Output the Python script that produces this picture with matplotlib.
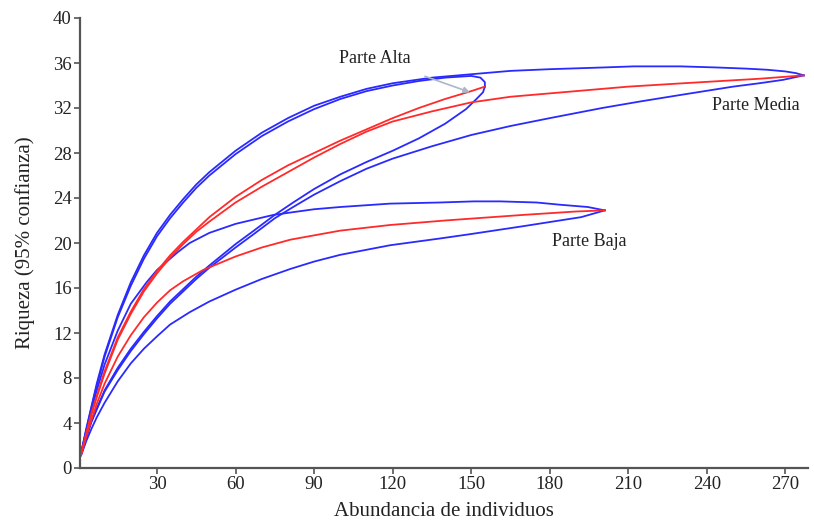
import matplotlib
matplotlib.use("Agg")
import matplotlib.pyplot as plt

# ---------------- data ----------------
# Parte Alta
alta_x = [1, 3, 5, 7, 10, 15, 20, 25, 30, 35, 40, 45, 50, 60, 70, 80, 90, 100, 110, 120, 130, 140, 150, 155.2]
alta_mean = [1.2, 3.1, 4.9, 6.4, 8.6, 11.6, 13.9, 15.9, 17.5, 18.9, 20.1, 21.2, 22.3, 24.1, 25.6, 26.9, 28.0, 29.1, 30.1, 31.1, 32.0, 32.8, 33.5, 33.9]
alta_up_x = [1, 3, 5, 7, 10, 15, 20, 25, 30, 35, 40, 45, 50, 60, 70, 80, 90, 100, 110, 120, 130, 140, 150, 153.5, 155.2, 155.2]
alta_up = [1.3, 3.4, 5.4, 7.3, 9.9, 13.4, 16.2, 18.6, 20.6, 22.2, 23.6, 24.9, 26.0, 27.9, 29.5, 30.8, 31.9, 32.8, 33.5, 34.0, 34.4, 34.7, 34.85, 34.7, 34.3, 33.9]
alta_lo_x = [1, 3, 5, 7, 10, 15, 20, 25, 30, 35, 40, 45, 50, 60, 67, 75, 82, 90, 100, 110, 120, 130, 140, 148, 152, 154.5, 155.2]
alta_lo = [1.2, 2.8, 4.2, 5.3, 6.9, 8.9, 10.6, 12.1, 13.5, 14.8, 15.9, 17.0, 18.0, 19.9, 21.1, 22.5, 23.6, 24.8, 26.1, 27.2, 28.2, 29.3, 30.6, 31.9, 32.8, 33.4, 33.9]

# Parte Media
media_x = [1, 3, 5, 7, 10, 15, 20, 25, 30, 35, 40, 45, 50, 60, 70, 80, 90, 100, 110, 120, 135, 150, 165, 180, 210, 231, 260, 277]
media_mean = [1.2, 3.0, 4.8, 6.3, 8.4, 11.4, 13.7, 15.7, 17.3, 18.7, 19.9, 21.0, 21.9, 23.6, 25.0, 26.3, 27.6, 28.8, 29.9, 30.8, 31.7, 32.5, 33.0, 33.3, 33.9, 34.2, 34.6, 34.9]
media_up_x = [1, 3, 5, 7, 10, 15, 20, 25, 30, 35, 40, 45, 50, 60, 70, 80, 90, 100, 110, 120, 135, 150, 165, 180, 200, 212, 230, 244, 255, 263, 270, 274, 277]
media_up = [1.3, 3.5, 5.5, 7.5, 10.1, 13.6, 16.5, 18.9, 20.9, 22.5, 23.9, 25.2, 26.3, 28.2, 29.8, 31.1, 32.2, 33.0, 33.7, 34.2, 34.7, 35.0, 35.3, 35.45, 35.6, 35.7, 35.7, 35.6, 35.5, 35.4, 35.25, 35.1, 34.9]
media_lo_x = [1, 3, 5, 7, 10, 15, 20, 25, 30, 35, 40, 45, 50, 60, 67, 75, 82, 90, 100, 110, 120, 135, 150, 165, 180, 200, 215, 231, 250, 260, 269, 277]
media_lo = [1.2, 2.7, 4.1, 5.2, 6.8, 8.7, 10.4, 11.9, 13.3, 14.6, 15.7, 16.8, 17.8, 19.6, 20.8, 22.2, 23.2, 24.3, 25.5, 26.6, 27.5, 28.6, 29.6, 30.4, 31.1, 32.0, 32.6, 33.2, 33.9, 34.2, 34.5, 34.9]

# Parte Baja
baja_x = [1, 3, 5, 7, 10, 15, 20, 25, 30, 35, 40, 47.6, 60, 70, 81, 100, 119, 140, 170, 190, 201]
baja_mean = [1.2, 2.8, 4.3, 5.7, 7.5, 9.9, 11.8, 13.4, 14.7, 15.8, 16.6, 17.6, 18.8, 19.6, 20.3, 21.1, 21.6, 22.0, 22.5, 22.8, 22.9]
baja_up_x = [1, 3, 5, 7, 10, 15, 20, 26, 30, 35, 38, 42.5, 45, 50, 60, 74.5, 90, 100, 119, 138, 151, 161, 175, 184, 194.5, 201]
baja_up = [1.3, 3.3, 5.2, 6.9, 9.2, 12.2, 14.6, 16.5, 17.6, 18.6, 19.2, 20.0, 20.3, 20.9, 21.7, 22.5, 23.0, 23.2, 23.5, 23.6, 23.7, 23.7, 23.6, 23.4, 23.2, 22.9]
baja_lo_x = [1, 3, 5, 7, 10, 15, 20, 25, 30, 35, 42.5, 50, 60, 70, 81, 90, 100, 119, 138, 150, 170, 192, 201]
baja_lo = [1.1, 2.4, 3.5, 4.5, 5.8, 7.7, 9.3, 10.6, 11.7, 12.75, 13.85, 14.8, 15.85, 16.8, 17.7, 18.35, 18.95, 19.8, 20.4, 20.8, 21.5, 22.3, 22.9]

x_ticks = [30, 60, 90, 120, 150, 180, 210, 240, 270]
y_ticks = [0, 4, 8, 12, 16, 20, 24, 28, 32, 36, 40]

# ---------------- drawing ----------------
plt.rcParams['font.family'] = ['Liberation Serif', 'DejaVu Serif']

fig = plt.figure(figsize=(8.14, 5.25), dpi=100)
ax = fig.add_axes([80 / 814, 57 / 525, 728 / 814, 450 / 525])

blue = '#2a2aff'
red = '#ff2a2a'
lw = 1.3

for xs, ys in [(alta_up_x, alta_up), (alta_lo_x, alta_lo),
               (media_up_x, media_up), (media_lo_x, media_lo),
               (baja_up_x, baja_up), (baja_lo_x, baja_lo)]:
    ax.plot(xs, ys, color=blue, lw=lw, solid_joinstyle='round')
for xs, ys in [(alta_x, alta_mean), (media_x, media_mean), (baja_x, baja_mean)]:
    ax.plot(xs, ys, color=red, lw=lw, solid_joinstyle='round')

ax.set_xlim(0.6, 278.6)
ax.set_ylim(0, 40)
ax.set_xticks(x_ticks)
ax.set_yticks(y_ticks)
ax.set_xticklabels([str(v) for v in x_ticks])
ax.set_yticklabels([str(v) for v in y_ticks])

for s in ['top', 'right']:
    ax.spines[s].set_visible(False)
for s in ['left', 'bottom']:
    ax.spines[s].set_color('#555555')
    ax.spines[s].set_linewidth(1.6)
ax.tick_params(axis='both', colors='#555555', labelcolor='#222222',
               labelsize=13.5, length=4, width=1.2, direction='out', pad=2)

ax.set_xlabel('Abundancia de individuos', fontsize=15, color='#222222', labelpad=6)
ax.set_ylabel('Riqueza (95% confianza)', fontsize=15, color='#222222', labelpad=13)

ax.annotate('Parte Alta', xy=(149.5, 33.4), xytext=(113.2, 36.4),
            fontsize=13, color='#222222', ha='center', va='center',
            arrowprops=dict(arrowstyle='-|>', color='#a8b8c8', lw=1.2,
                            shrinkA=14, shrinkB=0, mutation_scale=9))
ax.text(258.5, 32.2, 'Parte Media', fontsize=13, color='#222222', ha='center', va='center')
ax.text(195.2, 20.1, 'Parte Baja', fontsize=13, color='#222222', ha='center', va='center')

fig.savefig('out.png', dpi=100)
